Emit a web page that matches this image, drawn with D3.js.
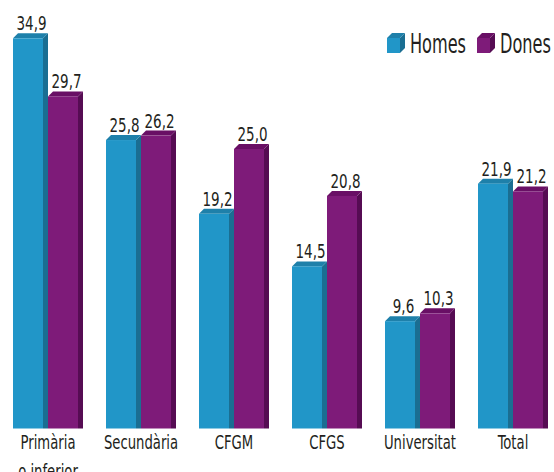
<!DOCTYPE html>
<html><head><meta charset="utf-8">
<script src="https://cdn.jsdelivr.net/npm/d3@7"></script>
<style>
html,body{margin:0;padding:0;background:#fff;}
svg{display:block;}
text{font-family:"Liberation Sans Narrow","DejaVu Sans Condensed","Arial Narrow",sans-serif;fill:#231f20;}
</style></head>
<body>
<svg id="chart" width="554" height="472"></svg>
<script>
const categories = [["Primària","o inferior"],["Secundària"],["CFGM"],["CFGS"],["Universitat"],["Total"]];
const seriesNames = ["Homes","Dones"];
const homes = [34.9, 25.8, 19.2, 14.5, 9.6, 21.9];
const dones = [29.7, 26.2, 25.0, 20.8, 10.3, 21.2];

const colors = {
  Homes: {front:"#2196c8", side:"#1a6e92", top:"#1e80aa"},
  Dones: {front:"#7e1b79", side:"#560c53", top:"#690f65"}
};
const depth = 5;
const svg = d3.select("#chart");
const catKeys = categories.map(c => c.join(" "));
const x0 = d3.scaleBand().domain(catKeys).range([13, 543]).paddingInner(28/93).paddingOuter(0);
const x1 = d3.scaleBand().domain(seriesNames).range([0, x0.bandwidth()]).paddingInner(1/7).paddingOuter(0);
const y = d3.scaleLinear().domain([0, 34.9]).range([428.5, 38.3]);

const data = [];
catKeys.forEach((c, i) => {
  data.push({cat:c, s:"Homes", v:homes[i]});
  data.push({cat:c, s:"Dones", v:dones[i]});
});
const fmt = v => d3.format(".1f")(v).replace(".", ",");

function factorFor(str, size, target) {
  const t = svg.append("text").attr("font-size", size).text(str);
  const w = t.node().getComputedTextLength();
  t.remove();
  return target / w;
}
function condense(sel, k) {
  sel.each(function() {
    const w = this.getComputedTextLength();
    d3.select(this).attr("textLength", w * k).attr("lengthAdjust", "spacingAndGlyphs");
  });
}
const kVal = factorFor("34,9", 20, 30);
const kCat = factorFor("Primària", 20, 55);

const g = svg.append("g");
data.forEach(d => {
  const xl = x0(d.cat) + x1(d.s), w = x1.bandwidth();
  const yt = y(d.v), yb = y(0);
  const c = colors[d.s];
  const bg = g.append("g");
  bg.append("path").attr("fill", c.side)
    .attr("d", `M${xl+w},${yt} L${xl+w+depth},${yt-depth} L${xl+w+depth},${yb} L${xl+w},${yb} Z`);
  bg.append("path").attr("fill", c.top)
    .attr("d", `M${xl},${yt} L${xl+depth},${yt-depth} L${xl+w+depth},${yt-depth} L${xl+w},${yt} Z`);
  bg.append("rect").attr("x", xl).attr("y", yt).attr("width", w).attr("height", yb-yt).attr("fill", c.front);
  const t = g.append("text").attr("x", xl + w/2 + 3.5).attr("y", yt - 8)
    .attr("text-anchor","middle").attr("font-size", 20).text(fmt(d.v));
  condense(t, kVal);
});

categories.forEach((lines, i) => {
  const cx = x0(catKeys[i]) + x0.bandwidth()/2 + 2.5;
  const t = svg.append("text").attr("x", cx).attr("y", 448.5).attr("text-anchor","middle").attr("font-size", 20);
  lines.forEach((l, j) => {
    t.append("tspan").attr("x", cx).attr("dy", j === 0 ? 0 : 29).text(l);
  });
  t.selectAll("tspan").each(function() {
    const w = this.getComputedTextLength();
    d3.select(this).attr("textLength", w * kCat).attr("lengthAdjust", "spacingAndGlyphs");
  });
});

const legend = [{s:"Homes", x:387, tx:410, tl:56}, {s:"Dones", x:477, tx:500, tl:51}];
legend.forEach(L => {
  const c = colors[L.s];
  const fx = L.x, fy = 38, fw = 13, fh = 15, d = 5;
  svg.append("path").attr("fill", c.side)
    .attr("d", `M${fx+fw},${fy} L${fx+fw+d},${fy-d} L${fx+fw+d},${fy+fh-d} L${fx+fw},${fy+fh} Z`);
  svg.append("path").attr("fill", c.top)
    .attr("d", `M${fx},${fy} L${fx+d},${fy-d} L${fx+fw+d},${fy-d} L${fx+fw},${fy} Z`);
  svg.append("rect").attr("x", fx).attr("y", fy).attr("width", fw).attr("height", fh).attr("fill", c.front);
  svg.append("text").attr("x", L.tx).attr("y", 53).attr("font-size", 26)
    .attr("textLength", L.tl).attr("lengthAdjust","spacingAndGlyphs").text(L.s);
});
</script>
</body></html>
